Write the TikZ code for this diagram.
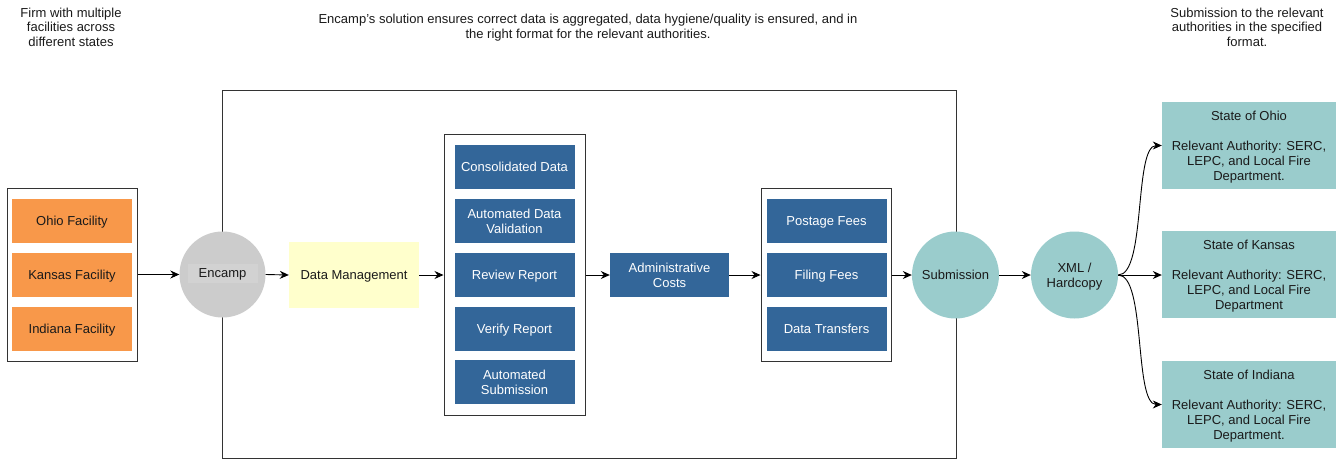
\documentclass[tikz,border=0pt]{standalone}
\usepackage{fontspec}
\setmainfont{Liberation Sans}
\usetikzlibrary{arrows.meta}
\definecolor{orangef}{HTML}{F8984A}
\definecolor{bluef}{HTML}{336699}
\definecolor{tealf}{HTML}{9ACCCC}
\definecolor{yellowf}{HTML}{FFFFCC}
\definecolor{grayf}{HTML}{CCCCCC}
\definecolor{graylab}{HTML}{D2D2D2}
\definecolor{edgec}{HTML}{333333}
\definecolor{txt}{HTML}{1A1A1A}
\begin{document}
\begin{tikzpicture}[x=1pt,y=-1pt,
  every node/.style={font=\fontsize{13}{15}\selectfont, text=txt, inner sep=0pt, align=center, text depth=0pt},
  container/.style={draw=edgec, line width=1pt, fill=white, rectangle},
  fac/.style={rectangle, fill=orangef, minimum width=120pt, minimum height=44pt},
  bluebox/.style={rectangle, fill=bluef, text=white, minimum width=120pt, minimum height=44pt},
  statebox/.style={rectangle, fill=tealf, minimum width=174pt, minimum height=87pt},
  circ/.style={circle, minimum size=87pt},
  title/.style={font=\fontsize{13}{14.5}\selectfont},
  arr/.style={draw=black, line width=0.9pt, -{Stealth[length=9pt,width=8pt,inset=3pt]}}
]
\useasboundingbox (0,0) rectangle (1338,459);

% titles
\node[title] (t1) at (71,27) {Firm with multiple\\facilities across\\different states};
\node[title] (t2) at (588,26.5) {Encamp's solution ensures correct data is aggregated, data hygiene/quality is ensured, and in\\the right format for the relevant authorities.};
\node[title] (t3) at (1247,27) {Submission to the relevant\\authorities in the specified\\format.};

% big container
\node[container, minimum width=734pt, minimum height=368pt] (big) at (589,274) {};

% left container
\node[container, minimum width=130pt, minimum height=173pt] (left) at (72,274.5) {};
\node[fac] (ohiof) at (72,221) {Ohio Facility};
\node[fac] (kansasf) at (72,275) {Kansas Facility};
\node[fac] (indianaf) at (72,329) {Indiana Facility};

% encamp
\node[circ, fill=grayf, minimum size=86pt] (encamp) at (222.5,274.5) {};
\node[fill=graylab, minimum width=70pt, minimum height=19pt] (encampt) at (222.5,273) {Encamp};

% data management
\node[rectangle, fill=yellowf, minimum width=130pt, minimum height=66pt] (dm) at (354,275) {Data Management};

% middle column
\node[container, minimum width=141pt, minimum height=281pt] (mid) at (514.5,274.5) {};
\node[bluebox] (cons) at (514.5,166.5) {Consolidated Data};
\node[bluebox] (adv) at (514.5,221) {Automated Data\\Validation};
\node[bluebox] (rev) at (514.5,275) {Review Report};
\node[bluebox] (ver) at (514.5,329) {Verify Report};
\node[bluebox] (asub) at (514.5,382) {Automated\\Submission};

% admin
\node[bluebox, minimum width=119pt] (admin) at (669.5,275) {Administrative\\Costs};

% right column
\node[container, minimum width=130pt, minimum height=173pt] (right) at (826,274.5) {};
\node[bluebox] (post) at (826.5,221) {Postage Fees};
\node[bluebox] (fil) at (826.5,275) {Filing Fees};
\node[bluebox] (dtr) at (826.5,329) {Data Transfers};

% circles
\node[circ, fill=tealf] (sub) at (955.5,275) {Submission};
\node[circ, fill=tealf] (xml) at (1074.5,275) {XML /\\Hardcopy};

% states
\node[statebox] (sohio) at (1249,145.5) {State of Ohio\\[15pt]Relevant Authority: SERC,\\LEPC, and Local Fire\\Department.};
\node[statebox] (skansas) at (1249,274.5) {State of Kansas\\[15pt]Relevant Authority: SERC,\\LEPC, and Local Fire\\Department};
\node[statebox] (sindiana) at (1249,404.5) {State of Indiana\\[15pt]Relevant Authority: SERC,\\LEPC, and Local Fire\\Department.};

% connectors
\draw[arr] (left.east |- encamp) -- (encamp.west);
\draw[arr] (encamp.east) -- (dm.west);
\draw[arr] (dm.east) -- (mid.west |- dm);
\draw[arr] (mid.east |- admin) -- (admin.west);
\draw[arr] (admin.east) -- (right.west |- admin);
\draw[arr] (right.east |- sub) -- (sub.west);
\draw[arr] (sub.east) -- (xml.west);
\draw[arr] (xml.east) .. controls +(28,0) and +(-28,0) .. (sohio.west);
\draw[arr] (xml.east) -- (skansas.west |- xml);
\draw[arr] (xml.east) .. controls +(28,0) and +(-28,0) .. (sindiana.west);
\end{tikzpicture}
\end{document}
